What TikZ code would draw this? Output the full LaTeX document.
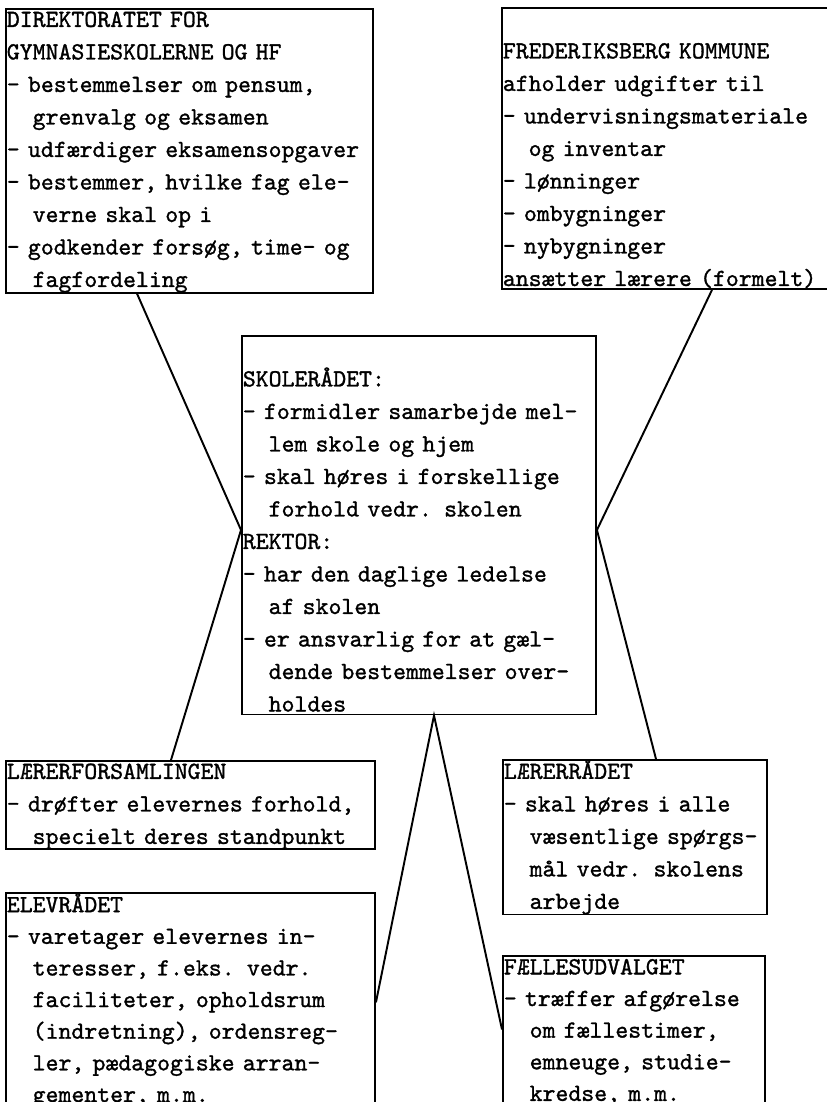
\documentclass[tikz,border=0pt]{standalone}
\usepackage{fontspec}
\setmonofont{lmmono10-regular.otf}[FakeBold=1.2]
\usetikzlibrary{positioning,calc}

\newcommand{\ind}{\hspace*{1.05em}}
\newcommand{\tstr}{\rule{0pt}{10.2pt}}
\newcommand{\bstr}{\rule[-1.7pt]{0pt}{1.7pt}}

\tikzset{orgbox/.style={draw, anchor=north west, align=left, inner xsep=0.5pt, inner ysep=0pt,
	font=\ttfamily\fontsize{14}{18.5}\selectfont}}

\begin{document}
\begin{tikzpicture}[line width=1.1pt]

		\useasboundingbox (0,0) rectangle (16.54,-22.04);
		\clip (0,0) rectangle (16.54,-22.04);

		\node(dir) [orgbox, text width=7.305cm] at (0.10,-0.16) {\tstr DIREKTORATET FOR\\
			GYMNASIESKOLERNE OG HF\\
			- bestemmelser om pensum,\\
			\ind grenvalg og eksamen\\
			- udfærdiger eksamensopgaver\\
			- bestemmer, hvilke fag ele-\\
			\ind verne skal op i\\
			- godkender forsøg, time- og\\
			\ind fagfordeling\bstr};
		\node(kom) [orgbox, text width=6.565cm] at (10.02,-0.14) {\tstr\\
			FREDERIKSBERG KOMMUNE\\
			afholder udgifter til\\
			- undervisningsmateriale\\
			\ind og inventar\\
			- lønninger\\
			- ombygninger\\
			- nybygninger\\
			ansætter lærere (formelt)\bstr};
		\node(sko) [orgbox, text width=7.045cm] at (4.82,-6.70) {\tstr\\
			SKOLERÅDET:\\
			- formidler samarbejde mel-\\
			\ind lem skole og hjem\\
			- skal høres i forskellige\\
			\ind forhold vedr. skolen\\
			REKTOR:\\
			- har den daglige ledelse\\
			\ind af skolen\\
			- er ansvarlig for at gæl-\\
			\ind dende bestemmelser over-\\
			\ind holdes\bstr};
		\node(lf) [orgbox, text width=7.345cm] at (0.10,-15.20) {\tstr LÆRERFORSAMLINGEN\\
			- drøfter elevernes forhold,\\
			\ind specielt deres standpunkt\bstr};
		\node(elev) [orgbox, text width=7.345cm, font=\ttfamily\fontsize{14}{18}\selectfont,
			below=0.84cm of lf.south west, anchor=north west] {\tstr ELEVRÅDET\\
			- varetager elevernes in-\\
			\ind teresser, f.eks. vedr.\\
			\ind faciliteter, opholdsrum\\
			\ind (indretning), ordensreg-\\
			\ind ler, pædagogiske arran-\\
			\ind gementer, m.m.\bstr};
		\node(lr) [orgbox, text width=5.245cm] at (10.04,-15.18) {\tstr LÆRERRÅDET\\
			- skal høres i alle\\
			\ind væsentlige spørgs-\\
			\ind mål vedr. skolens\\
			\ind arbejde\bstr};
		\node(fu) [orgbox, text width=5.205cm, font=\ttfamily\fontsize{14}{18}\selectfont,
			below=0.80cm of lr.south west, anchor=north west] {\tstr FÆLLESUDVALGET\\
			- træffer afgørelse\\
			\ind om fællestimer,\\
			\ind emneuge, studie-\\
			\ind kredse, m.m.\bstr};

		\draw ($(dir.south west)+(2.64,0)$) -- ($(sko.north west)+(0,-3.9)$) -- ($(lf.north west)+(3.32,0)$);
		\draw ($(kom.south west)+(4.22,0)$) -- ($(sko.north east)+(0,-3.9)$) -- ($(lr.north west)+(3.08,0)$);
		\draw ($(elev.north east)+(0,-2.2)$) -- ($(sko.south west)+(3.86,0)$) -- ($(fu.north west)+(0,-1.48)$);

	\end{tikzpicture}
\end{document}
